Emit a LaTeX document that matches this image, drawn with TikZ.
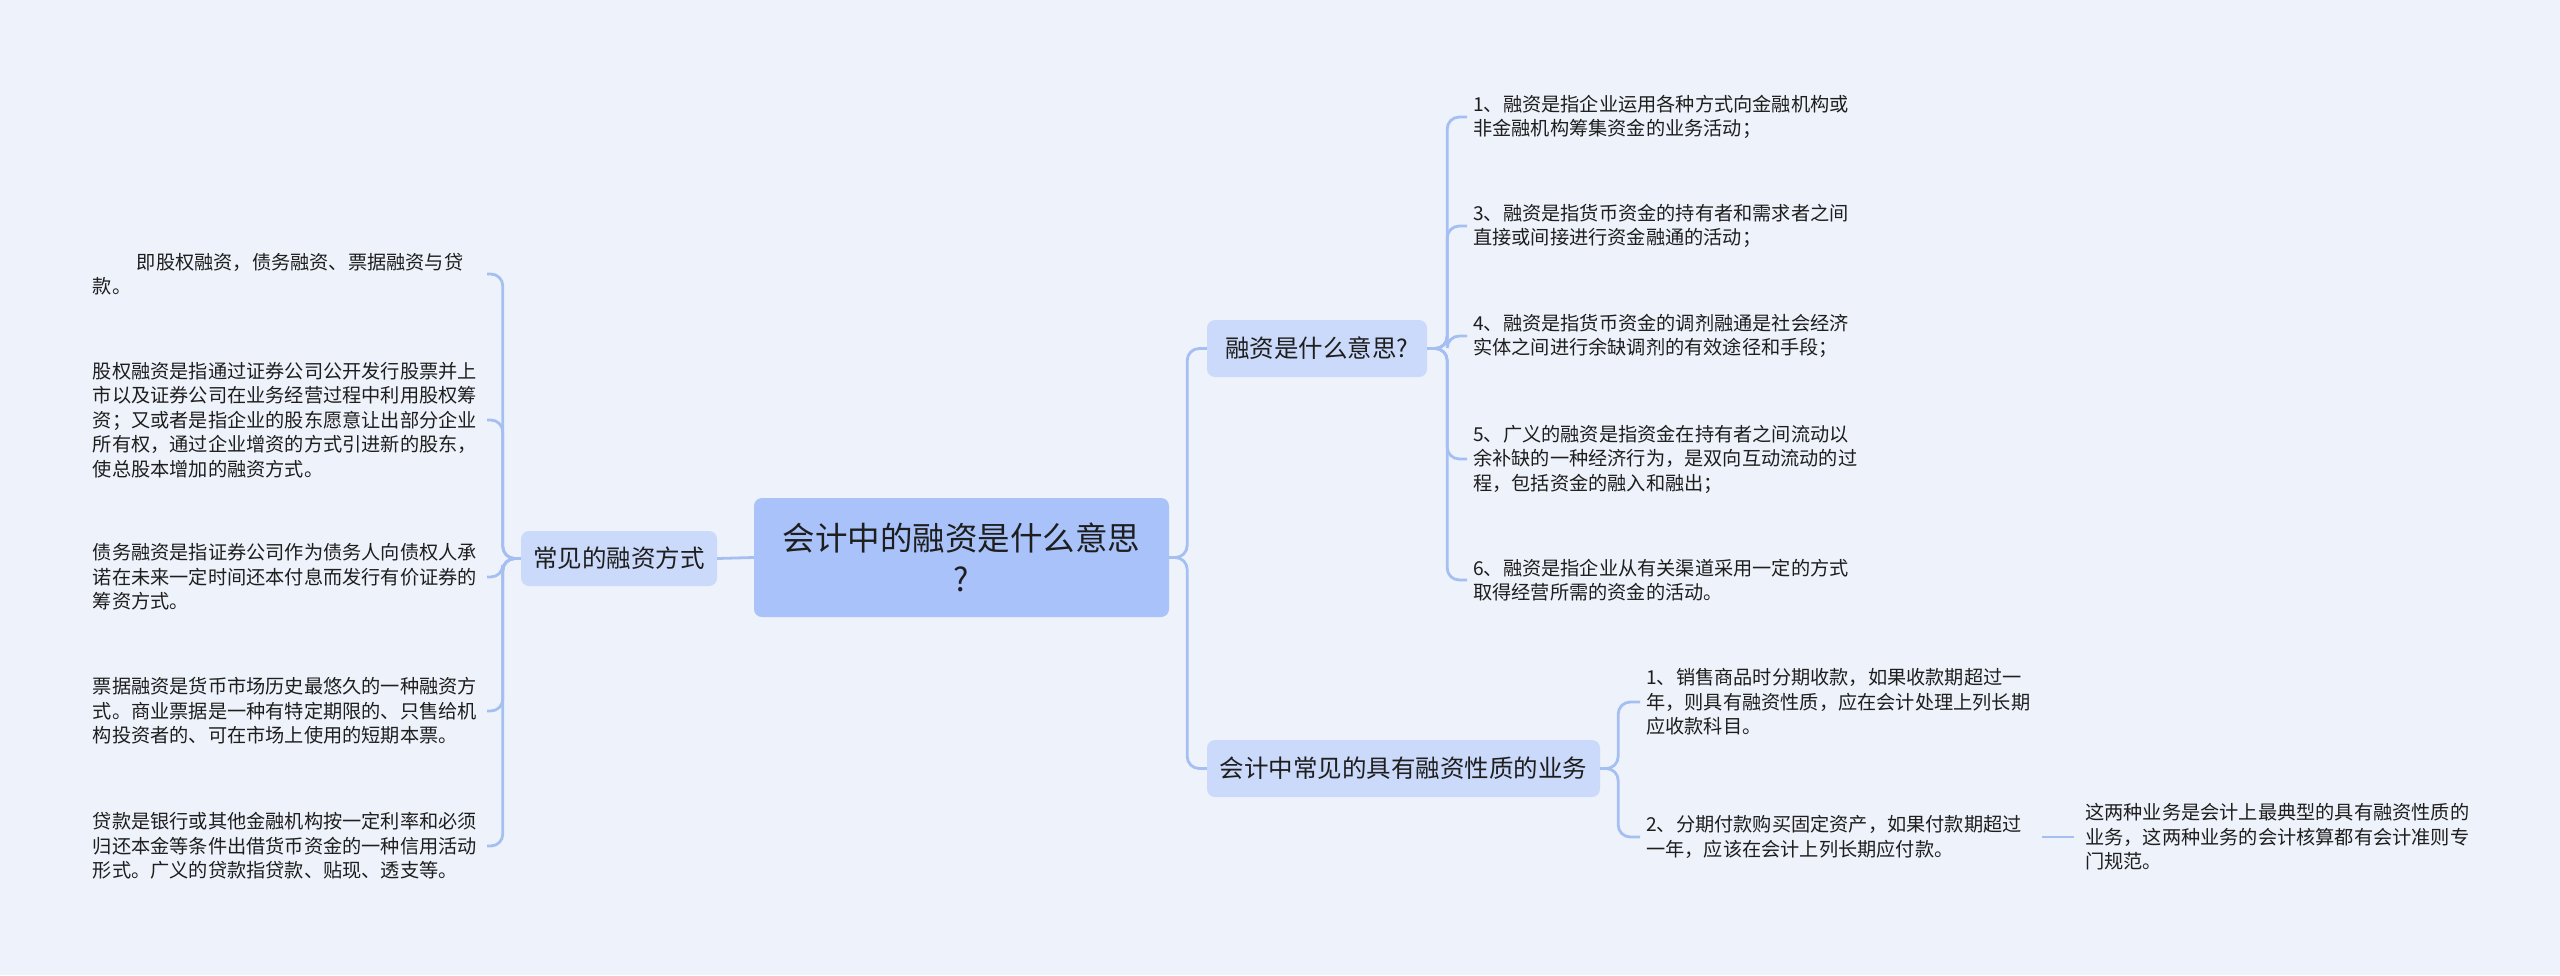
\documentclass[tikz,border=0pt]{standalone}
\usepackage{fontspec}
\setmainfont{Noto Sans CJK SC}
\newfontfamily\cjk{Noto Sans CJK SC}
\definecolor{bgc}{HTML}{EEF2FA}
\definecolor{rootc}{HTML}{A9C2F9}
\definecolor{subc}{HTML}{CBDAFA}
\definecolor{linec}{HTML}{A5BFF3}
\definecolor{txtc}{HTML}{1E1E1E}
\begin{document}
\begin{tikzpicture}[x=1pt,y=-1pt,
  every node/.style={text=txtc,font=\cjk},
  rootbox/.style={fill=rootc,rounded corners=8pt,minimum width=415pt,minimum height=119pt,align=center,inner sep=0pt,font=\cjk\fontsize{32.5}{41}\selectfont},
  subbox/.style={fill=subc,rounded corners=8pt,minimum height=57pt,inner sep=0pt,font=\cjk\fontsize{24.5}{30}\selectfont},
  leafL/.style={anchor=east,align=left,text width=388pt,inner xsep=6pt,inner ysep=0pt,font=\cjk\fontsize{19.2}{24.6}\selectfont},
  leafR/.style={anchor=west,align=left,text width=390pt,inner xsep=6pt,inner ysep=0pt,font=\cjk\fontsize{19.2}{24.6}\selectfont},
  conn/.style={draw=linec,line width=2.8pt,rounded corners=12pt}]
\fill[bgc] (0,0) rectangle (2560,975);
\useasboundingbox (0,0) rectangle (2560,975);

% main nodes
\node[rootbox] (root) at (961.5,557.5) {会计中的融资是什么意思\\?};
\node[subbox,minimum width=196pt,minimum height=55pt] (L) at (619,558.5) {常见的融资方式};
\node[subbox,minimum width=220pt] (A) at (1317,348.5) {融资是什么意思?};
\node[subbox,minimum width=393pt] (B) at (1403.5,768.5) {会计中常见的具有融资性质的业务};

% left leaves
\node[leafL] (l1) at (487,274) {\hspace*{44pt}即股权融资，债务融资、票据融资与贷\\款。};
\node[leafL] (l2) at (487,420) {股权融资是指通过证券公司公开发行股票并上\\市以及证券公司在业务经营过程中利用股权筹\\资；又或者是指企业的股东愿意让出部分企业\\所有权，通过企业增资的方式引进新的股东，\\使总股本增加的融资方式。};
\node[leafL] (l3) at (487,577) {债务融资是指证券公司作为债务人向债权人承\\诺在未来一定时间还本付息而发行有价证券的\\筹资方式。};
\node[leafL] (l4) at (487,711) {票据融资是货币市场历史最悠久的一种融资方\\式。商业票据是一种有特定期限的、只售给机\\构投资者的、可在市场上使用的短期本票。};
\node[leafL] (l5) at (487,846) {贷款是银行或其他金融机构按一定利率和必须\\归还本金等条件出借货币资金的一种信用活动\\形式。广义的贷款指贷款、贴现、透支等。};

% right A leaves
\node[leafR] (a1) at (1467,117) {1、融资是指企业运用各种方式向金融机构或\\非金融机构筹集资金的业务活动；};
\node[leafR] (a3) at (1467,226) {3、融资是指货币资金的持有者和需求者之间\\直接或间接进行资金融通的活动；};
\node[leafR] (a4) at (1467,336) {4、融资是指货币资金的调剂融通是社会经济\\实体之间进行余缺调剂的有效途径和手段；};
\node[leafR] (a5) at (1467,459) {5、广义的融资是指资金在持有者之间流动以\\余补缺的一种经济行为，是双向互动流动的过\\程，包括资金的融入和融出；};
\node[leafR] (a6) at (1467,580) {6、融资是指企业从有关渠道采用一定的方式\\取得经营所需的资金的活动。};

% right B leaves
\node[leafR] (b1) at (1640,702) {1、销售商品时分期收款，如果收款期超过一\\年，则具有融资性质，应在会计处理上列长期\\应收款科目。};
\node[leafR] (b2) at (1640,837) {2、分期付款购买固定资产，如果付款期超过\\一年，应该在会计上列长期应付款。};
\node[leafR,inner xsep=11pt] (b3) at (2074,837) {这两种业务是会计上最典型的具有融资性质的\\业务，这两种业务的会计核算都有会计准则专\\门规范。};

% connectors
\draw[conn] (root.west) -- (L.east);
\foreach \n in {l1,l2,l3,l4,l5} \draw[conn] (L.west) -- ++(-18,0) |- (\n.east);
\foreach \n in {A,B} \draw[conn] (root.east) -- ++(18,0) |- (\n.west);
\foreach \n in {a1,a3,a4,a5,a6} \draw[conn] (A.east) -- ++(20,0) |- (\n.west);
\foreach \n in {b1,b2} \draw[conn] (B.east) -- ++(18,0) |- (\n.west);
\draw[conn] (b2.east) -- (b3.west);
\end{tikzpicture}
\end{document}
